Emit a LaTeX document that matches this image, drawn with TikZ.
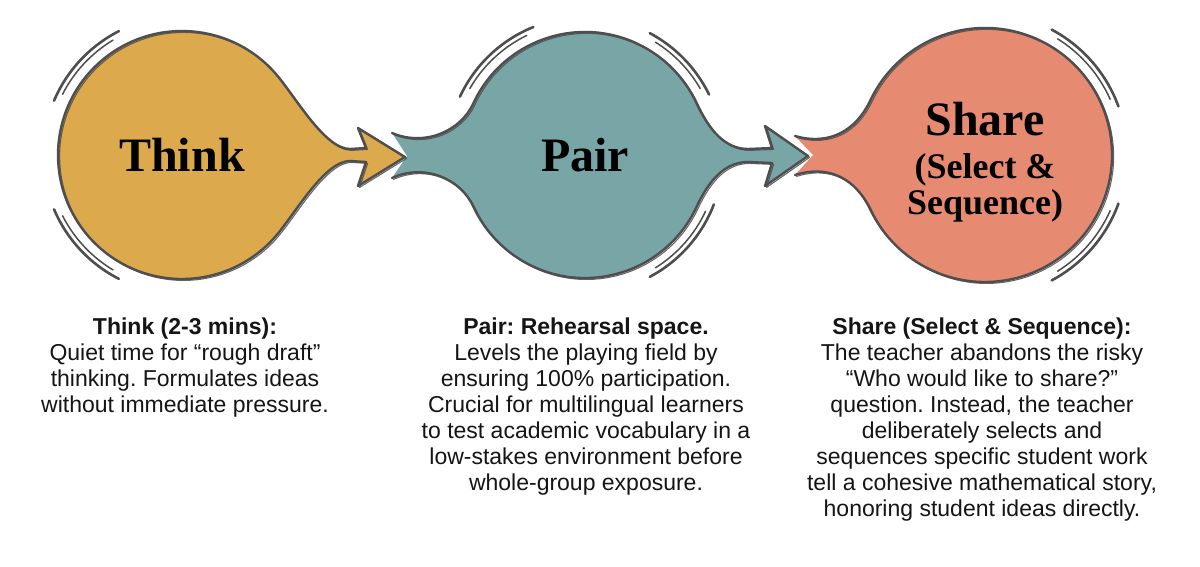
\documentclass[tikz,border=0pt]{standalone}
\usepackage{fontspec}
\setmainfont{Liberation Serif}
\setsansfont{Liberation Sans}
\frenchspacing
\definecolor{thinkc}{HTML}{DCA94C}
\definecolor{pairc}{HTML}{78A6A7}
\definecolor{sharec}{HTML}{E68A72}
\definecolor{inkc}{HTML}{4E4E4E}
\definecolor{textc}{HTML}{151515}
\tikzset{
  outl/.style={draw=inkc, line width=2.4pt, line join=round, line cap=round},
  outlb/.style={draw=inkc, line width=1.1pt, line join=round, line cap=round, opacity=0.85},
  deco/.style={draw=inkc, line width=2.6pt, line cap=round},
  decob/.style={draw=inkc, line width=1.5pt, line cap=round},
  bigtitle/.style={font=\fontsize{48}{50}\selectfont\bfseries, text=black, inner sep=0pt},
  subtitle/.style={font=\fontsize{36}{40}\selectfont\bfseries, text=black, inner sep=0pt, anchor=base},
  desc/.style={font=\sffamily\fontsize{23}{26}\selectfont, align=center, text=textc, inner sep=0pt, anchor=north},
  thinkpath/.style={insert path={(350,-149) .. controls (325,-149) and (296.3,-98.3) .. (277,-75.3)
     arc[start angle=40,end angle=320,radius=124]
     .. controls (296.3,-211.7) and (325,-161) .. (350,-161)
     -- (366,-162) -- (358,-186) -- (405,-157) -- (358,-128) -- (366,-148) -- cycle}},
  pairpath/.style={insert path={(392,-133) .. controls (425,-147) and (461,-131) .. (473.5,-103)
     arc[start angle=155,end angle=25,radius=123]
     .. controls (709,-130) and (725,-149) .. (748,-149)
     -- (772,-148) -- (765,-126) -- (808,-156) -- (765,-186) -- (772,-163) -- (748,-162)
     .. controls (725,-162) and (709,-180) .. (696.5,-207)
     arc[start angle=335,end angle=205,radius=123]
     .. controls (461,-179) and (425,-163) .. (392,-178)}},
  sharepath/.style={insert path={(795,-136) .. controls (830,-146) and (856,-130) .. (869.9,-101.3)
     arc[start angle=155,end angle=-155,radius=127]
     .. controls (856,-180) and (830,-164) .. (795,-175)}},
}
\begin{document}
\begin{tikzpicture}[x=1pt,y=1pt]
\fill[white] (0,0) rectangle (1200,-566);
\useasboundingbox (0,0) rectangle (1200,-566);

% ---- Share bulb
\fill[sharec, sharepath] -- (813,-155) -- cycle;
\path[outl, sharepath];
\path[outlb, shift={(1.6,-1.4)}, sharepath];
\draw[deco] (985,-155) ++(62:142) arc[start angle=62,end angle=20,radius=142];
\draw[decob] (985,-155) ++(58:137) arc[start angle=58,end angle=24,radius=137];
\draw[deco] (985,-155) ++(-20:142) arc[start angle=-20,end angle=-62,radius=142];
\draw[decob] (985,-155) ++(-24:137) arc[start angle=-24,end angle=-58,radius=137];

% ---- Pair bulb
\fill[pairc, pairpath] -- (407,-156) -- cycle;
\path[outl, pairpath];
\path[outlb, shift={(1.6,-1.4)}, pairpath];
\draw[deco] (585,-155) ++(112:138) arc[start angle=112,end angle=155,radius=138];
\draw[decob] (585,-155) ++(116:133) arc[start angle=116,end angle=150,radius=133];
\draw[deco] (585,-155) ++(62:138) arc[start angle=62,end angle=26,radius=138];
\draw[decob] (585,-155) ++(58:133) arc[start angle=58,end angle=30,radius=133];
\draw[deco] (585,-155) ++(-21:138) arc[start angle=-21,end angle=-62,radius=138];
\draw[decob] (585,-155) ++(-25:133) arc[start angle=-25,end angle=-58,radius=133];

% ---- Think bulb
\fill[thinkc, thinkpath];
\path[outl, thinkpath];
\path[outlb, shift={(1.6,-1.4)}, thinkpath];
\draw[deco] (182,-155) ++(117:139) arc[start angle=117,end angle=157,radius=139];
\draw[decob] (182,-155) ++(121:134) arc[start angle=121,end angle=153,radius=134];
\draw[deco] (182,-155) ++(203:139) arc[start angle=203,end angle=243,radius=139];
\draw[decob] (182,-155) ++(207:134) arc[start angle=207,end angle=239,radius=134];

% ---- titles in bulbs
\node[bigtitle] (think) at (182,-155) {Think};
\node[bigtitle] (pair) at (585,-155) {Pair};
\node[bigtitle, anchor=base] (share) at (985,-135) {Share};
\node[subtitle] (sharesel) at (985,-178) {(Select \&};
\node[subtitle] (shareseq) at (985,-214) {Sequence)};

% ---- descriptions
\node[desc] (thinktxt) at (185,-318) {\textbf{Think (2-3 mins):}\\
Quiet time for “rough draft”\\
thinking. Formulates ideas\\
without immediate pressure.};
\node[desc] (pairtxt) at (586,-318) {\textbf{Pair: Rehearsal space.}\\
Levels the playing field by\\
ensuring 100\% participation.\\
Crucial for multilingual learners\\
to test academic vocabulary in a\\
low-stakes environment before\\
whole-group exposure.};
\node[desc] (sharetxt) at (982,-318) {\textbf{Share (Select \& Sequence):}\\
The teacher abandons the risky\\
“Who would like to share?”\\
question. Instead, the teacher\\
deliberately selects and\\
sequences specific student work\\
tell a cohesive mathematical story,\\
honoring student ideas directly.};
\end{tikzpicture}
\end{document}
